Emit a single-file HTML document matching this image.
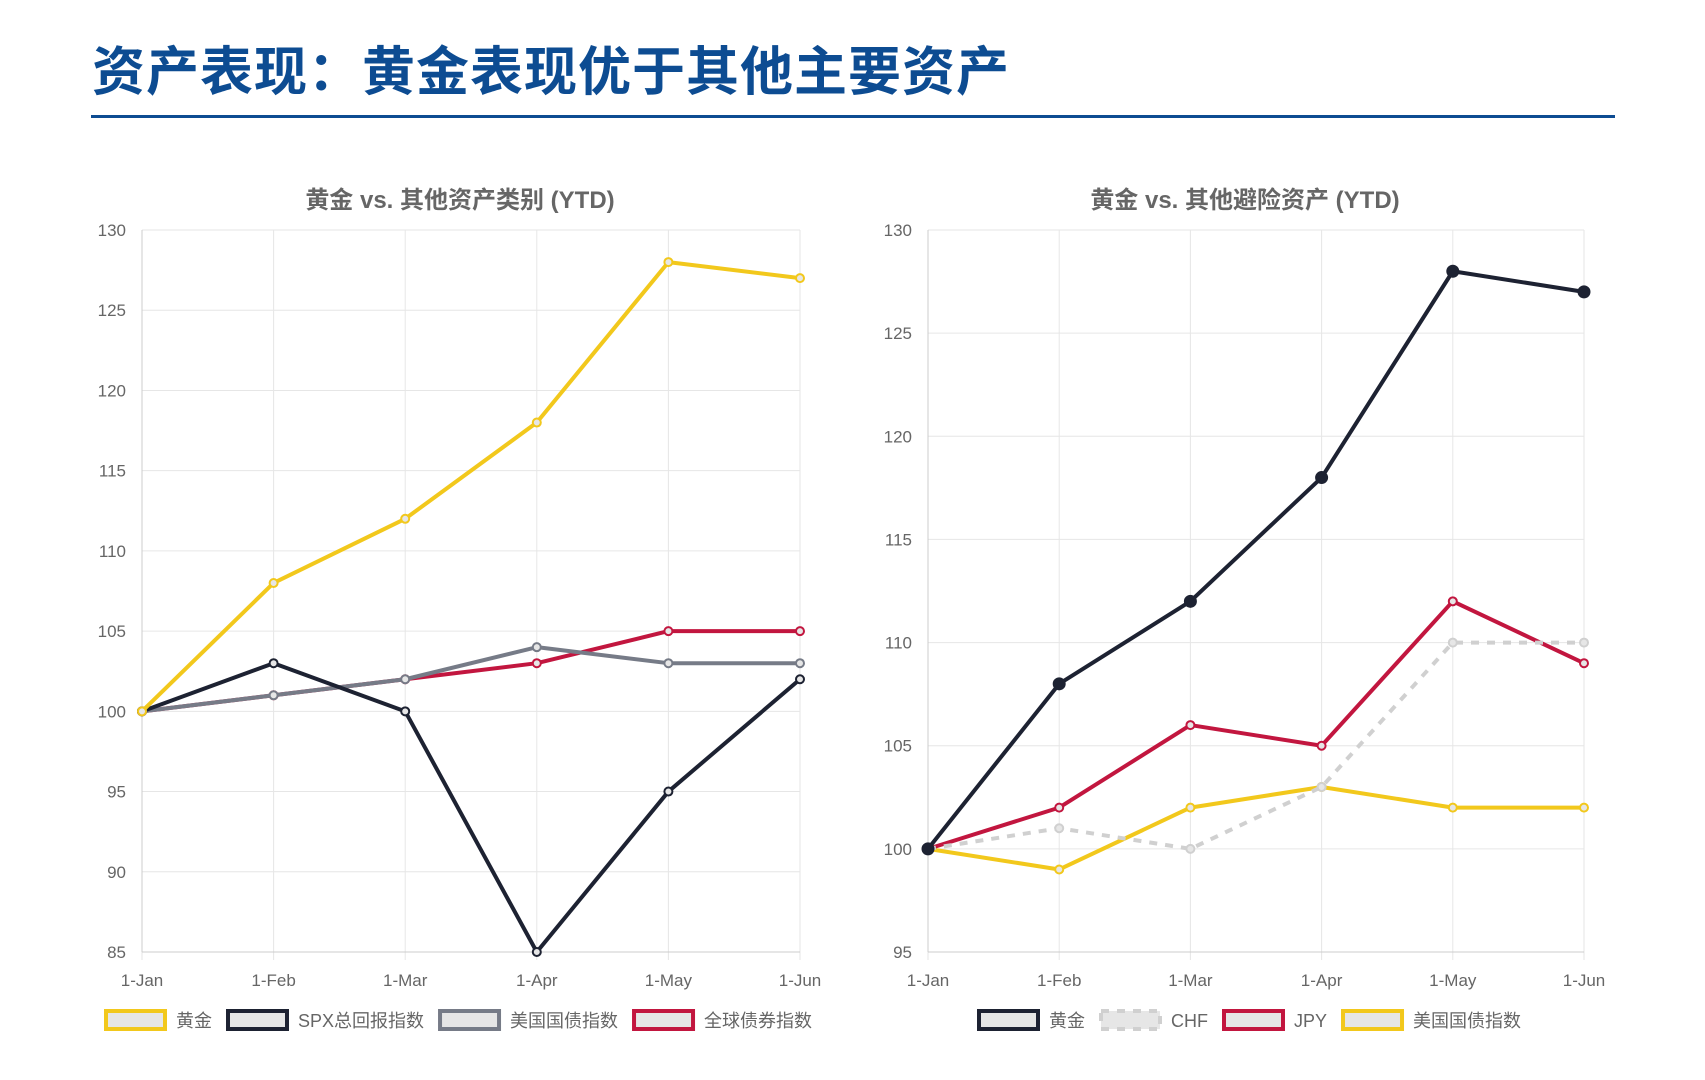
<!DOCTYPE html>
<html><head><meta charset="utf-8"><style>
body{margin:0;width:1705px;height:1080px;background:#fff;overflow:hidden;font-family:"Liberation Sans","Noto Sans CJK SC",sans-serif;}
#title{position:absolute;left:92px;top:30px;font-size:53px;font-weight:bold;color:#0d4c92;letter-spacing:1px;}
#rule{position:absolute;left:91px;top:115px;width:1533px;height:3px;background:#0d4c92;}
svg{position:absolute;left:0;top:0}
</style></head><body>
<div id="title">资产表现：黄金表现优于其他主要资产</div>
<div id="rule" style="width:1524px"></div>
<svg id="svg" width="1705" height="1080"></svg>
<script>
const categories=["1-Jan","1-Feb","1-Mar","1-Apr","1-May","1-Jun"];
const leftTicks=[85,90,95,100,105,110,115,120,125,130];
const rightTicks=[95,100,105,110,115,120,125,130];
const leftGold=[100,108,112,118,128,127];
const leftSpx=[100,103,100,85,95,102];
const leftUst=[100,101,102,104,103,103];
const leftGlobal=[100,101,102,103,105,105];
const rightGold=[100,108,112,118,128,127];
const rightChf=[100,101,100,103,110,110];
const rightJpy=[100,102,106,105,112,109];
const rightUst=[100,99,102,103,102,102];
const leftNames=["黄金","SPX总回报指数","美国国债指数","全球债券指数"];
const rightNames=["黄金","CHF","JPY","美国国债指数"];

const NS="http://www.w3.org/2000/svg";
const svg=document.getElementById('svg');
function el(t,a,p){const e=document.createElementNS(NS,t);for(const k in a)e.setAttribute(k,a[k]);(p||svg).appendChild(e);return e;}
const GOLD="#f2c81c",DARK="#1d2232",GRAY="#767b87",RED="#c2163f",LG="#d0d0d0";

function chart(cfg){
  const g=el('g',{});
  
  
  const x0=cfg.x0,x1=cfg.x1,y0=230,y1=952,mn=cfg.ticks[0],mx=cfg.ticks[cfg.ticks.length-1];
  const X=i=>x0+(x1-x0)*i/(categories.length-1);
  const Y=v=>y1-(v-mn)/(mx-mn)*(y1-y0);
  const t=el('text',{x:(x0+x1)/2-11,y:208,'text-anchor':'middle','font-size':24,'font-weight':'bold',fill:'#666'},g);
  t.textContent=cfg.title;
  
  
  cfg.ticks.forEach(v=>{
    el('line',{x1:x0,x2:x1,y1:Y(v),y2:Y(v),stroke:'#e6e6e6','stroke-width':1},g);
    const tt=el('text',{x:x0-16,y:Y(v)+6,'text-anchor':'end','font-size':17,fill:'#666'},g);
    tt.textContent=v;
    
    
  });
  categories.forEach((c,i)=>{
    el('line',{x1:X(i),x2:X(i),y1:y0,y2:y1+8,stroke:'#e6e6e6','stroke-width':1},g);
    const tt=el('text',{x:X(i),y:986,'text-anchor':'middle','font-size':17,fill:'#666'},g);
    tt.textContent=c;
    
    
  });
  el('line',{x1:x0,x2:x0,y1:y0,y2:y1,stroke:'#ccc'},g);
  el('line',{x1:x0,x2:x1,y1:y1,y2:y1,stroke:'#ccc'},g);
  cfg.series.slice().reverse().forEach(s=>{
    const pts=s.data.map((v,i)=>X(i)+','+Y(v)).join(' ');
    const pl=el('polyline',{points:pts,fill:'none',stroke:s.color,'stroke-width':4,'stroke-linejoin':'round','stroke-dasharray':s.dash||'none'},g);
    
    
    s.data.forEach((v,i)=>{
      const c=el('circle',{cx:X(i),cy:Y(v),r:s.r||4,fill:s.fill||'#e6e6e6',stroke:s.color,'stroke-width':s.r?3:2},g);
      
      
    });
  });
  let lx=cfg.legX;
  cfg.series.forEach((s,i)=>{
    const lg=el('g',{},g);
    
    
    el('rect',{x:lx+2,y:1011,width:59,height:18,fill:'#e6e6e6',stroke:s.color,'stroke-width':4,'stroke-dasharray':s.dash||'none'},lg);
    const tt=el('text',{x:lx+72,y:1027,'font-size':18,fill:'#666'},lg);
    tt.textContent=cfg.names[i];
    lx+=72+tt.getComputedTextLength()+14;
  });
}
chart({name:'left-chart',title:'黄金 vs. 其他资产类别 (YTD)',x0:142,x1:800,ticks:leftTicks,legX:104,names:leftNames,
 series:[{data:leftGold,color:GOLD},{data:leftSpx,color:DARK},{data:leftUst,color:GRAY},{data:leftGlobal,color:RED}]});
chart({name:'right-chart',title:'黄金 vs. 其他避险资产 (YTD)',x0:928,x1:1584,ticks:rightTicks,legX:977,names:rightNames,
 series:[{data:rightGold,color:DARK,r:5,fill:DARK},{data:rightChf,color:LG,dash:'8,8'},{data:rightJpy,color:RED},{data:rightUst,color:GOLD}]});
</script>
</body></html>
